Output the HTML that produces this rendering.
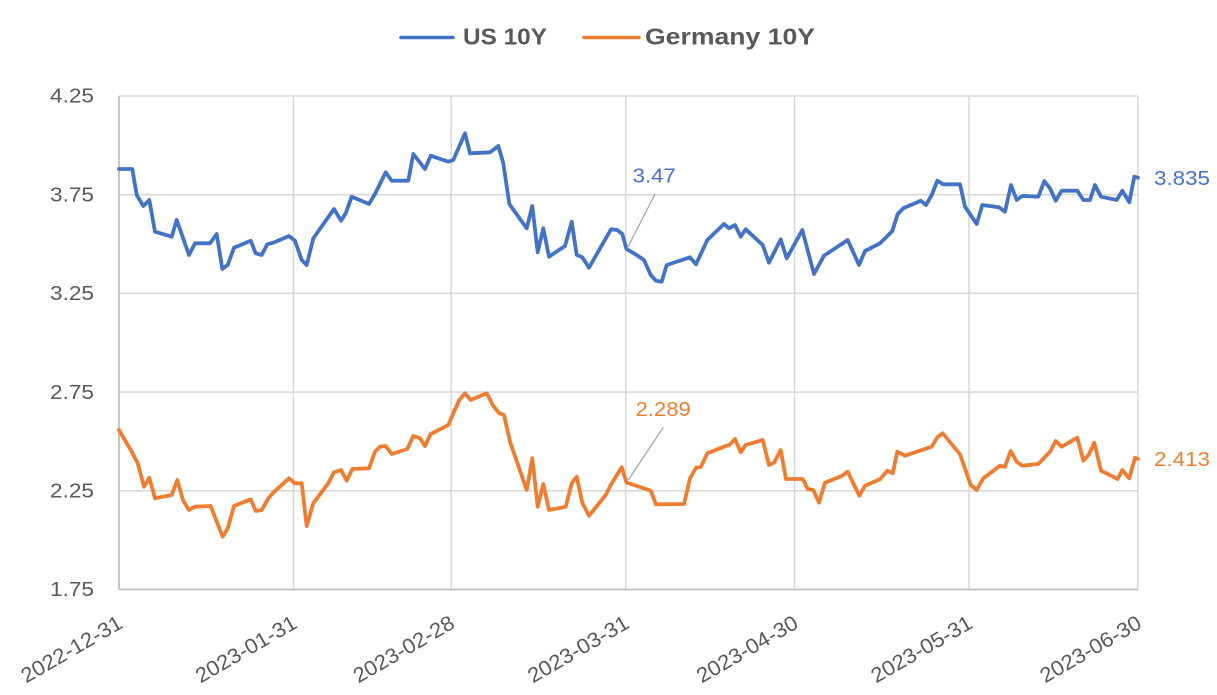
<!DOCTYPE html>
<html><head><meta charset="utf-8"><style>
html,body{margin:0;padding:0;background:#fff;}
svg{display:block;}
text{font-family:"Liberation Sans",sans-serif;}
</style></head><body>
<svg width="1217" height="695" viewBox="0 0 1217 695" xmlns="http://www.w3.org/2000/svg">
<rect width="1217" height="695" fill="#fff"/>
<g stroke="#d9d9d9" stroke-width="1.6" fill="none">
<line x1="119" y1="96" x2="1138" y2="96"/>
<line x1="119" y1="194.7" x2="1138" y2="194.7"/>
<line x1="119" y1="293.4" x2="1138" y2="293.4"/>
<line x1="119" y1="392.1" x2="1138" y2="392.1"/>
<line x1="119" y1="490.8" x2="1138" y2="490.8"/>
<line x1="293.5" y1="96" x2="293.5" y2="589.5"/>
<line x1="451.2" y1="96" x2="451.2" y2="589.5"/>
<line x1="625.7" y1="96" x2="625.7" y2="589.5"/>
<line x1="794.6" y1="96" x2="794.6" y2="589.5"/>
<line x1="969" y1="96" x2="969" y2="589.5"/>
<line x1="1138" y1="96" x2="1138" y2="589.5"/>
</g>
<g stroke="#bfbfbf" stroke-width="1.8" fill="none">
<line x1="119" y1="96" x2="119" y2="589.5"/>
<line x1="119" y1="589.5" x2="1138" y2="589.5"/>
</g>
<g fill="#595959" font-size="20.5" text-anchor="end">
<text x="94" y="102.7" textLength="44" lengthAdjust="spacingAndGlyphs">4.25</text>
<text x="94" y="201.4" textLength="44" lengthAdjust="spacingAndGlyphs">3.75</text>
<text x="94" y="300.1" textLength="44" lengthAdjust="spacingAndGlyphs">3.25</text>
<text x="94" y="398.8" textLength="44" lengthAdjust="spacingAndGlyphs">2.75</text>
<text x="94" y="497.5" textLength="44" lengthAdjust="spacingAndGlyphs">2.25</text>
<text x="94" y="596.2" textLength="44" lengthAdjust="spacingAndGlyphs">1.75</text>
</g>
<g fill="#595959" font-size="21" text-anchor="end">
<text transform="translate(124,627) rotate(-30)" textLength="113" lengthAdjust="spacingAndGlyphs">2022-12-31</text>
<text transform="translate(298.5,627) rotate(-30)" textLength="113" lengthAdjust="spacingAndGlyphs">2023-01-31</text>
<text transform="translate(456.2,627) rotate(-30)" textLength="113" lengthAdjust="spacingAndGlyphs">2023-02-28</text>
<text transform="translate(630.7,627) rotate(-30)" textLength="113" lengthAdjust="spacingAndGlyphs">2023-03-31</text>
<text transform="translate(799.6,627) rotate(-30)" textLength="113" lengthAdjust="spacingAndGlyphs">2023-04-30</text>
<text transform="translate(974,627) rotate(-30)" textLength="113" lengthAdjust="spacingAndGlyphs">2023-05-31</text>
<text transform="translate(1143,627) rotate(-30)" textLength="113" lengthAdjust="spacingAndGlyphs">2023-06-30</text>
</g>
<polyline fill="none" stroke="#4472C4" stroke-width="3.8" stroke-linejoin="round" stroke-linecap="round" points="119,169 132.3,169 136.7,195 143.3,206 149.3,200 155,231.7 171.7,236.7 176.7,220 189,255 195,243.3 210,243.3 216.7,234 222.3,269 227.7,265 234,247.7 250.7,240.7 255.7,253.3 261.7,255 267.3,244.3 273.3,242.7 289,236 295,240.7 301.7,260 306.7,265 313.3,238.3 334,209 341,220.7 345.7,213.3 351.7,196.7 369,204 375,194 385.7,172.3 391.7,180.7 408.3,180.7 413.3,154 425,169 430.7,155.7 448.3,161.7 453.3,160 465,133.3 470,153.3 490,152.3 498.3,146 503.3,163.3 509.3,204 526.7,228.3 532.3,206 537.7,252.3 543.3,228.3 549,256.7 565,246 571.7,221.7 576.7,255 582.3,257.3 589,267.7 611,229.3 617.3,230 622.3,234 626.5,249 635,254 644,260 650.7,275 656,280.7 661.7,281.7 666.7,265 690,257.3 696,264.3 707.3,240 724,224 729,228.3 735,225 740.7,236.7 745.7,229.3 762.7,245 769,262.7 780.7,239.3 786.7,258.3 802.3,230 814,274 824,255.7 847.7,240 859,265 865,251 880,243.3 886.7,236.7 892.3,231 897.7,214 903.3,208.3 920.7,200.7 926,205 931.7,195 937.3,180.7 943.3,184.3 960,184.3 965,206.7 976.7,224 982.3,205 999,207.3 1005,211.7 1011,185 1016.7,200 1022.3,196 1038.3,196.7 1044.3,181 1050,188.3 1055.7,200.7 1061.7,190.7 1077.3,190.7 1083.3,200 1090,200 1095,185 1101,196.7 1116.7,200 1122.3,190.7 1129.3,202.3 1134.3,176.7 1138,177.7"/>
<polyline fill="none" stroke="#ED7D31" stroke-width="3.8" stroke-linejoin="round" stroke-linecap="round" points="119,430 131.7,451.7 137.7,463.3 144,486.7 149.3,477.7 155,498.3 171.7,495 177.3,480 183.3,501 189,510 195,506.7 210.7,506 216.7,521.7 222.7,536.7 227.7,528.3 234,506 250.7,499.3 255.7,511 261.7,510 268.3,498.3 273.3,492.7 289,478.3 295,483.3 301.7,483.3 306.7,526 313.3,503.3 328.3,483.3 334,472.3 341,470 346.7,480.7 352.3,469 369,468.3 375,451.7 380,446.7 385.7,446 391.7,454 407.3,449 413.3,436 420,438.3 425,446 430.7,434 448.3,425 453.3,413.3 459.3,400 465,393.3 470.7,400 486.7,393.3 493.3,406 499.3,413.3 504,415 510,441.7 526.7,490 532.3,458.3 537.7,506.7 543.3,484 549,510 565.7,506.7 571.7,483.3 576.7,476.7 582.3,502.7 589,515.7 605.7,495 610.7,485 621.7,467.3 626.5,482.5 650.7,490.7 656,504.3 684,504 690,478.3 696,467.7 701,466.7 707.3,453.3 724,446.7 729.3,445 735,439 740.7,452.3 745.7,445 762.7,440 769,465 774,462.7 780.7,450 786,479 802.7,479 807.7,489 813.3,490 819,502.7 825,482.7 841.7,476 847.7,471.7 859.3,495.7 865,485.7 880,479.3 887.3,470.7 892.7,473.3 897.3,451.7 905,455.7 931.7,446.7 937.3,437.3 942.7,433.3 960,454.3 970.7,485 976.7,490 983.3,478.3 1000,465.7 1005,466.7 1010.7,451 1016.7,461.7 1022.3,465.7 1038.3,464 1050,451.7 1055.7,441 1061.7,446.7 1077.3,437.7 1083.3,460.7 1089,454.3 1094.3,442.7 1101,470.7 1117.7,479 1122.3,470 1129.3,478.3 1135,457.7 1138,459"/>
<g stroke="#a6a6a6" stroke-width="1.3">
<line x1="655" y1="194" x2="627.3" y2="248.3"/>
<line x1="663.3" y1="427.3" x2="628.3" y2="480"/>
</g>
<g font-size="20.5">
<text x="632.7" y="182.7" fill="#4472C4" textLength="43" lengthAdjust="spacingAndGlyphs">3.47</text>
<text x="635.7" y="416" fill="#ED7D31" textLength="55" lengthAdjust="spacingAndGlyphs">2.289</text>
<text x="1154" y="185" fill="#4472C4" textLength="56" lengthAdjust="spacingAndGlyphs">3.835</text>
<text x="1154" y="466" fill="#ED7D31" textLength="56" lengthAdjust="spacingAndGlyphs">2.413</text>
</g>
<line x1="401" y1="37.5" x2="453" y2="37.5" stroke="#4472C4" stroke-width="3.6" stroke-linecap="round"/>
<line x1="584" y1="37.5" x2="639" y2="37.5" stroke="#ED7D31" stroke-width="3.6" stroke-linecap="round"/>
<g font-size="23" font-weight="bold" fill="#595959">
<text x="463" y="44.3" textLength="84" lengthAdjust="spacingAndGlyphs">US 10Y</text>
<text x="645" y="44.3" textLength="170" lengthAdjust="spacingAndGlyphs">Germany 10Y</text>
</g>
</svg>
</body></html>
